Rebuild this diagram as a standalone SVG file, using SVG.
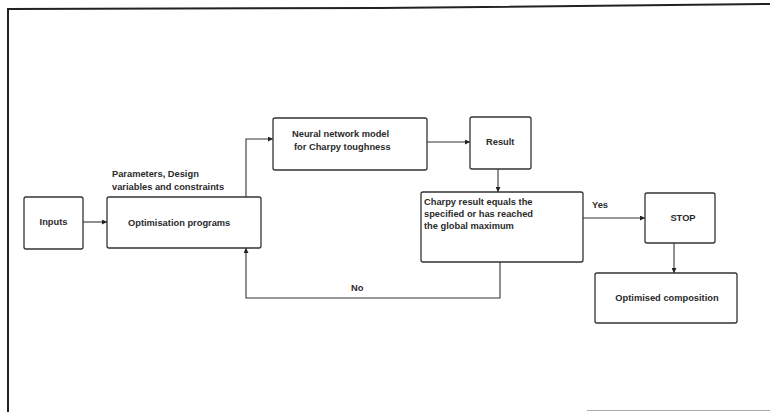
<svg xmlns="http://www.w3.org/2000/svg" width="770" height="412" viewBox="0 0 770 412">
  <defs>
    <marker id="arrow" viewBox="0 0 10 10" refX="10" refY="5" markerWidth="7" markerHeight="5" orient="auto" markerUnits="userSpaceOnUse">
      <path d="M0,0 L10,5 L0,10 z" fill="#222"/>
    </marker>
  </defs>
  <style>
    .box { fill: #fff; stroke: #333; stroke-width: 1.3; }
    .lbl { font-family: "Liberation Sans", Arial, sans-serif; font-size: 9.3px; font-weight: bold; fill: #2a2a2a; }
    .mid { text-anchor: middle; }
    .wire { fill: none; stroke: #333; stroke-width: 1.1; }
    .frame { fill: none; stroke: #222; stroke-width: 2; }
  </style>
  <rect width="770" height="412" fill="#fff"/>

  <!-- page frame -->
  <path class="frame" d="M8,412 L8,9 L380,8 L770,4"/>
  <line x1="587" y1="410.5" x2="770" y2="410.5" stroke="#aaa" stroke-width="1.2"/>

  <!-- connectors -->
  <g id="connectors">
    <line class="wire" x1="83" y1="222" x2="107" y2="222" marker-end="url(#arrow)"/>
    <polyline class="wire" points="246,197 246,139 273,139" marker-end="url(#arrow)"/>
    <line class="wire" x1="427" y1="142" x2="470" y2="142" marker-end="url(#arrow)"/>
    <line class="wire" x1="498" y1="169" x2="498" y2="192" marker-end="url(#arrow)"/>
    <line class="wire" x1="583" y1="218" x2="645" y2="218" marker-end="url(#arrow)"/>
    <line class="wire" x1="674" y1="243" x2="674" y2="273" marker-end="url(#arrow)"/>
    <polyline class="wire" points="500,262 500,298 246,298 246,248" marker-end="url(#arrow)"/>
    <text class="lbl" x="592" y="208">Yes</text>
    <text class="lbl" x="351" y="291">No</text>
  </g>

  <g id="inputs">
    <rect class="box" x="24" y="197" width="59" height="52" rx="2"/>
    <text class="lbl mid" x="53.5" y="225">Inputs</text>
  </g>

  <g id="optimisation">
    <text class="lbl" x="112" y="177">Parameters, Design</text>
    <text class="lbl" x="112" y="190">variables and constraints</text>
    <rect class="box" x="107" y="197" width="154" height="51" rx="2"/>
    <text class="lbl" x="128" y="226">Optimisation programs</text>
  </g>

  <g id="neural-network">
    <rect class="box" x="273" y="118" width="154" height="52" rx="2"/>
    <text class="lbl" x="292" y="137">Neural network model</text>
    <text class="lbl" x="294" y="150">for Charpy toughness</text>
  </g>

  <g id="result">
    <rect class="box" x="470" y="117" width="61" height="52" rx="2"/>
    <text class="lbl" x="486" y="145">Result</text>
  </g>

  <g id="decision">
    <rect class="box" x="421" y="192" width="162" height="70" rx="2"/>
    <text class="lbl" x="424" y="205">Charpy result equals the</text>
    <text class="lbl" x="424" y="217">specified or has reached</text>
    <text class="lbl" x="424" y="229">the global maximum</text>
  </g>

  <g id="stop">
    <rect class="box" x="645" y="193" width="70" height="50" rx="2"/>
    <text class="lbl mid" x="683" y="221">STOP</text>
  </g>

  <g id="optimised-composition">
    <rect class="box" x="595" y="273" width="142" height="50" rx="2"/>
    <text class="lbl mid" x="667" y="301">Optimised composition</text>
  </g>
</svg>
